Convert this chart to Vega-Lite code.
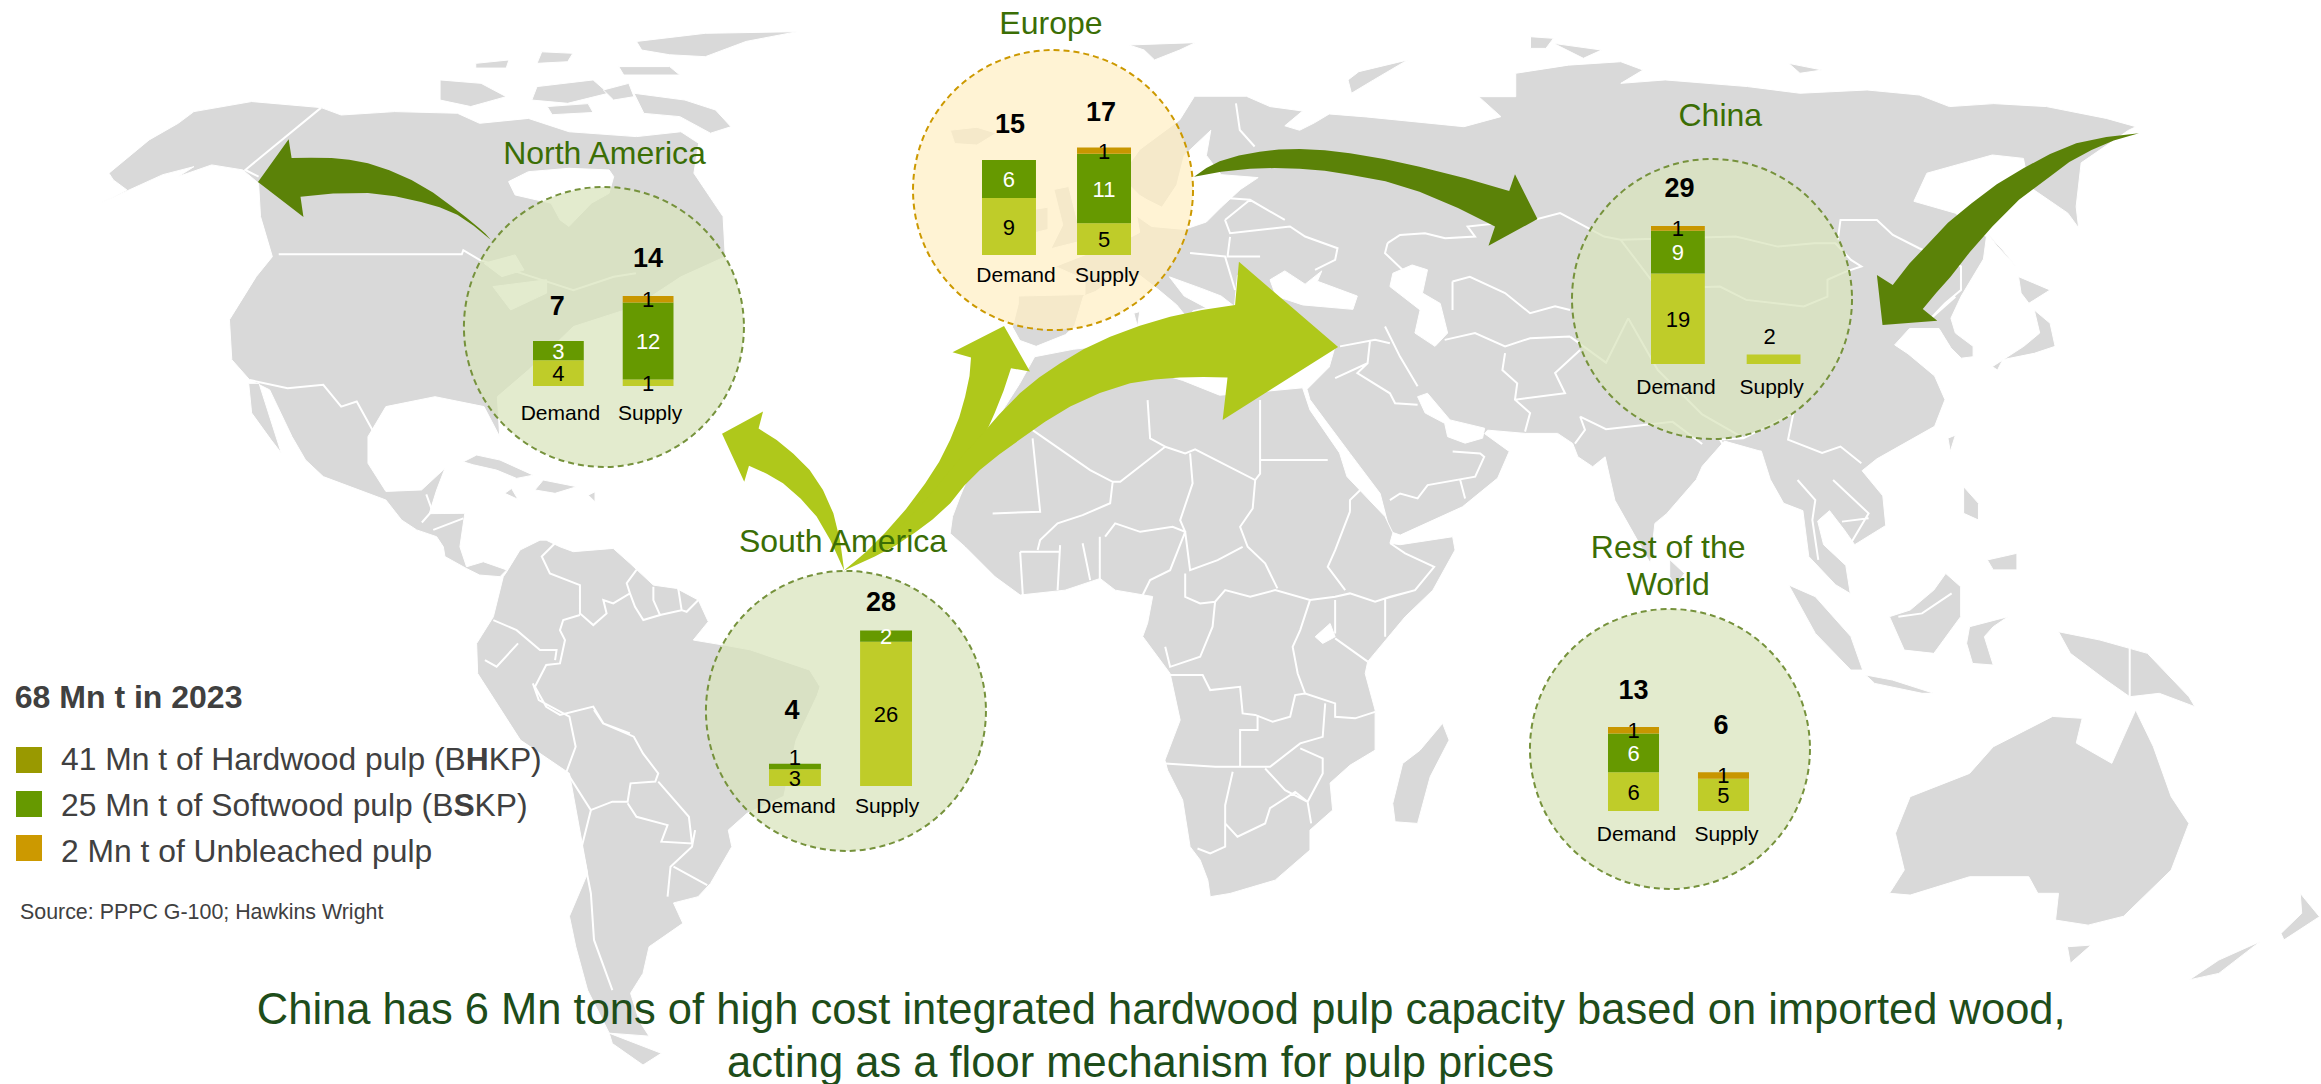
{
"$schema":"https://vega.github.io/schema/vega-lite/v6.json",
"width":2321,"height":1084,"padding":0,"autosize":{"type":"none"},"background":"#ffffff",
"config":{"view":{"stroke":null},"text":{"font":"Liberation Sans"}},
"projection":{"type":"identity","scale":1.4802,"translate":[0,0]},
"resolve":{"scale":{"x":"independent","y":"independent","color":"independent","fill":"independent","stroke":"independent"}},
"data":{"values":[
{"region":"NA","flow":"Demand","pulp":"Hardwood","value":4},{"region":"NA","flow":"Demand","pulp":"Softwood","value":3},
{"region":"NA","flow":"Supply","pulp":"Hardwood","value":1},{"region":"NA","flow":"Supply","pulp":"Softwood","value":12},{"region":"NA","flow":"Supply","pulp":"Unbleached","value":1},
{"region":"EU","flow":"Demand","pulp":"Hardwood","value":9},{"region":"EU","flow":"Demand","pulp":"Softwood","value":6},
{"region":"EU","flow":"Supply","pulp":"Hardwood","value":5},{"region":"EU","flow":"Supply","pulp":"Softwood","value":11},{"region":"EU","flow":"Supply","pulp":"Unbleached","value":1},
{"region":"CN","flow":"Demand","pulp":"Hardwood","value":19},{"region":"CN","flow":"Demand","pulp":"Softwood","value":9},{"region":"CN","flow":"Demand","pulp":"Unbleached","value":1},
{"region":"CN","flow":"Supply","pulp":"Hardwood","value":2},
{"region":"SA","flow":"Demand","pulp":"Hardwood","value":3},{"region":"SA","flow":"Demand","pulp":"Softwood","value":1},
{"region":"SA","flow":"Supply","pulp":"Hardwood","value":26},{"region":"SA","flow":"Supply","pulp":"Softwood","value":2},
{"region":"RW","flow":"Demand","pulp":"Hardwood","value":6},{"region":"RW","flow":"Demand","pulp":"Softwood","value":6},{"region":"RW","flow":"Demand","pulp":"Unbleached","value":1},
{"region":"RW","flow":"Supply","pulp":"Hardwood","value":5},{"region":"RW","flow":"Supply","pulp":"Unbleached","value":1}
]},
"datasets":{
"land":[
{"type":"Feature","properties":{"name":"North America"},"geometry":{"type":"Polygon","coordinates":[[[73.6,117],[100.8,94.5],[120.4,83.3],[131,75.4],[170,68.6],[217,72.7],[230.5,77.7],[266.7,75.4],[309,76.5],[324,83.3],[357,80],[384.4,89],[430,92.3],[460,89],[472,96.8],[468.8,117],[488.5,146.3],[490,173.4],[460,187],[429.6,207],[387.4,220.6],[357,250],[336,268],[337.6,295],[327,274.7],[293.9,268],[260.7,274.7],[248.6,295],[248.6,313],[260.7,332],[284.8,331],[300.6,316.4],[295,331],[290,347],[314,346.8],[310.7,369.4],[315.2,382.9],[326.5,379.5],[342.3,385],[337.8,389.6],[324,388.5],[315,384],[300.6,376],[299.5,369.4],[295,362.6],[281.5,358],[271.3,351.3],[260.7,337.8],[218.4,322],[206.4,310.7],[197.3,295],[182.2,263.4],[168.7,256.7],[156.6,243],[155,216],[173,187],[184,173.4],[176,146.3],[174.7,123.8],[164,114.8],[143,111.4],[120.4,119.3],[131,112.6],[110,118],[67.6,137.3],[85.7,128.3],[76.6,121.6],[73.6,117]]]}},
{"type":"Feature","properties":{"name":"Baja"},"geometry":{"type":"Polygon","coordinates":[[[168,259],[175,259],[190,306],[183,297],[170,279],[168,259]]]}},
{"type":"Feature","properties":{"name":"Baffin"},"geometry":{"type":"Polygon","coordinates":[[[428.3,63],[462.7,67.6],[483.4,74.3],[493.8,85.6],[480,90],[459.3,78.8],[435,76.6],[428.3,63]]]}},
{"type":"Feature","properties":{"name":"Ellesmere"},"geometry":{"type":"Polygon","coordinates":[[[430,28],[476.5,22.5],[538.6,21.4],[504,28],[476.5,38.3],[452.4,37],[433.5,33.8],[430,28]]]}},
{"type":"Feature","properties":{"name":"Victoria"},"geometry":{"type":"Polygon","coordinates":[[[297.3,54],[325,56.3],[342,65.3],[318,72],[297.3,67.6],[297.3,54]]]}},
{"type":"Feature","properties":{"name":"Arctic 2"},"geometry":{"type":"Polygon","coordinates":[[[362.8,58.5],[400.7,54],[411,63],[383.5,69.8],[359.3,67.6],[362.8,58.5]]]}},
{"type":"Feature","properties":{"name":"Arctic 3"},"geometry":{"type":"Polygon","coordinates":[[[321.4,42.8],[343.8,40.5],[342,46],[321.4,46],[321.4,42.8]]]}},
{"type":"Feature","properties":{"name":"Arctic 4"},"geometry":{"type":"Polygon","coordinates":[[[366,35],[387,36],[383.5,41.7],[362.8,42.8],[366,35]]]}},
{"type":"Feature","properties":{"name":"Arctic 5"},"geometry":{"type":"Polygon","coordinates":[[[418,45],[452.4,45],[459.3,50.7],[421.4,50.7],[418,45]]]}},
{"type":"Feature","properties":{"name":"Arctic 6"},"geometry":{"type":"Polygon","coordinates":[[[407.6,60.8],[424.8,56.3],[428.3,65.3],[414.5,67.6],[407.6,60.8]]]}},
{"type":"Feature","properties":{"name":"Arctic 7"},"geometry":{"type":"Polygon","coordinates":[[[369.7,72],[397.3,70],[400.7,76],[373,77.5],[369.7,72]]]}},
{"type":"Feature","properties":{"name":"Cuba"},"geometry":{"type":"Polygon","coordinates":[[[313,312],[322,307.4],[337.8,310.8],[360.3,321],[349,323.2],[335.5,317.6],[319.7,314],[313,312]]]}},
{"type":"Feature","properties":{"name":"Hispaniola"},"geometry":{"type":"Polygon","coordinates":[[[361.4,331],[367,324.3],[389.6,328.8],[375,333.3],[361.4,331]]]}},
{"type":"Feature","properties":{"name":"Jamaica"},"geometry":{"type":"Polygon","coordinates":[[[341,333.3],[345.6,330],[350,337.4],[341,333.3]]]}},
{"type":"Feature","properties":{"name":"Puerto Rico"},"geometry":{"type":"Polygon","coordinates":[[[397.4,334.5],[402,332.2],[402,339],[397.4,334.5]]]}},
{"type":"Feature","properties":{"name":"South America"},"geometry":{"type":"Polygon","coordinates":[[[342.3,386.3],[351.3,371.6],[364.8,364.9],[369,364.9],[378.3,369.4],[387.3,372.7],[414.3,370.5],[425.6,380.6],[441.4,395.3],[457,397.5],[471.8,405.4],[478.5,420],[468.4,432.4],[490,436],[506.7,439],[547,452.7],[554,464],[552,470],[537.8,500],[529.5,538],[504.7,549.5],[492,560.8],[494.4,572],[480,596.8],[471.6,605.8],[455,610],[461.3,623.8],[438.5,639.6],[434.4,657.6],[426,671],[432,690],[438.5,700],[411.6,698],[397,669],[389,639.6],[384.7,619],[397,590],[384.7,522.5],[351.6,500],[322.7,455],[322,434.7],[333.3,416.7],[340,389.6],[342.3,386.3]]]}},
{"type":"Feature","properties":{"name":"Tierra del Fuego"},"geometry":{"type":"Polygon","coordinates":[[[411.6,698],[446.8,711.6],[434.4,719.5],[413.7,705],[411.6,698]]]}},
{"type":"Feature","properties":{"name":"Eurasia"},"geometry":{"type":"Polygon","coordinates":[[[688,200],[733,199],[733,189],[713,180],[736,171],[753,166],[770,157],[768,146],[778,153],[800,155],[815,150],[825,140],[838,128],[850,120],[825,118],[815,105],[818,88],[800,105],[795,125],[785,140],[775,135],[770,132],[757,119],[770,101],[797,81],[807,65],[842,65],[858,72],[880,75],[868,85],[878,88],[888,83],[898,77],[923,79],[989,85.6],[1014,78.8],[999,65.3],[1024,65.3],[1024,49.5],[1059.6,44],[1095,41.7],[1110,47.3],[1095,56.3],[1125,54],[1180.7,58.5],[1216,63],[1261.4,60.8],[1296.7,64.2],[1317,72],[1347,70],[1382.5,72],[1423,80],[1443,85.6],[1438,88],[1406,110],[1402.6,139.6],[1404.3,154],[1397,144],[1370.7,126],[1367,107],[1346,104.7],[1301.8,117],[1293,136],[1321,144],[1342,160],[1340,175],[1325,200],[1318,215],[1321,225],[1333,234],[1333,241],[1325,242],[1318,235],[1310,222],[1290,222],[1280,233],[1289,239],[1307,254],[1314,270],[1307,288],[1268,310],[1258,318],[1272,335],[1274,355],[1253,368],[1246,358],[1236,345],[1228,352],[1232,368],[1247,382],[1250,401],[1240,395],[1222,376],[1218,345],[1205,340],[1196,324],[1190,305],[1165,298],[1150,315],[1146,324],[1126,347],[1118,353.6],[1115,380.6],[1091,338],[1084.4,308.6],[1076,315.3],[1066,308.6],[1062.5,299.6],[1052.3,292.8],[1030.4,292.8],[1005,290.6],[1003,293],[1019.6,305],[1011.8,323],[988,342.4],[946,361.5],[939,359],[932.4,333.4],[912,306.3],[895.2,283.8],[885,270],[883,263],[898,248],[902,234],[885,222],[848,220],[838,205],[846,192],[836,186],[834,207],[825,200],[812,195],[790,187],[800,200],[815,208],[806,210],[803,216],[795,206],[783,196],[770,186],[750,190],[740,197],[732,200],[726,220],[720,226],[700,234],[689,230],[684,221],[688,205],[688,200]]]}},
{"type":"Feature","properties":{"name":"Africa"},"geometry":{"type":"Polygon","coordinates":[[[699,241],[725,236],[760,232],[775,232],[775,250],[799,257],[824,267],[848,265],[880,262],[885,277],[905,306],[910,322],[935.7,349],[941,360],[939,367],[945.9,368],[981.4,362.6],[983,371.6],[968,398.7],[949.3,416.7],[924,447],[922.3,455],[929,479.7],[929,506.8],[912,517],[898.6,529],[900.3,547.3],[885,560.8],[885,574.3],[861.5,594.6],[831,603.6],[817.6,605.8],[816,594.6],[810.8,581],[804,572],[799,540.5],[788.8,520.3],[787,513.5],[797.3,486.5],[790.5,455],[772,430],[775.3,421],[778.7,403],[753.4,398.7],[743.2,390.8],[719.6,398.7],[689.2,402],[672.3,389.7],[652,369.4],[641.9,360.4],[643.5,349],[648.6,335.5],[665.5,295],[679,274.7],[689,259],[699,241]]]}},
{"type":"Feature","properties":{"name":"Madagascar"},"geometry":{"type":"Polygon","coordinates":[[[974.6,488.7],[979,500],[966.2,524.8],[957.7,556.3],[942.5,555.2],[940.9,542.8],[947.6,515.8],[959.4,506.8],[974.6,488.7]]]}},
{"type":"Feature","properties":{"name":"Australia"},"geometry":{"type":"Polygon","coordinates":[[[1346.6,504.5],[1386.7,484],[1406.7,485.3],[1402.7,502],[1426.7,515.7],[1442.8,479.7],[1454.8,504.5],[1466.8,538.2],[1478.8,556.3],[1466.8,587.8],[1434.7,619],[1410.7,625],[1388.7,621.6],[1390.7,603.5],[1376.7,603.5],[1370.6,592.3],[1330.6,592.3],[1290.5,604.7],[1276.5,603.5],[1286.5,587.8],[1280.5,563],[1290.5,538.2],[1330.6,522.5],[1346.6,504.5]]]}},
{"type":"Feature","properties":{"name":"Tasmania"},"geometry":{"type":"Polygon","coordinates":[[[1396.7,639.6],[1412.7,638.5],[1398.7,650.8],[1396.7,639.6]]]}},
{"type":"Feature","properties":{"name":"NZ North"},"geometry":{"type":"Polygon","coordinates":[[[1554,603.5],[1567,619.3],[1543,635],[1541,630.6],[1555,617],[1554,603.5]]]}},
{"type":"Feature","properties":{"name":"NZ South"},"geometry":{"type":"Polygon","coordinates":[[[1527,636],[1499,657.6],[1479,662],[1499,648.6],[1527,636]]]}},
{"type":"Feature","properties":{"name":"New Guinea"},"geometry":{"type":"Polygon","coordinates":[[[1390.7,426.8],[1418.7,432.4],[1450.8,441.4],[1478.8,470.7],[1482.8,477.4],[1458.8,468.4],[1438.8,470.7],[1422.7,459.4],[1398.7,441.4],[1390.7,426.8]]]}},
{"type":"Feature","properties":{"name":"Sumatra"},"geometry":{"type":"Polygon","coordinates":[[[1208.4,395.2],[1226.4,403.1],[1250.4,430],[1258.4,452.7],[1250.4,452.7],[1226.4,427.9],[1208.4,395.2]]]}},
{"type":"Feature","properties":{"name":"Java"},"geometry":{"type":"Polygon","coordinates":[[[1260.4,456],[1278.5,459.4],[1306.5,468.4],[1298.5,468.4],[1266.5,461.7],[1260.4,456]]]}},
{"type":"Feature","properties":{"name":"Borneo"},"geometry":{"type":"Polygon","coordinates":[[[1314.5,387.4],[1324.6,396.4],[1324.6,416.6],[1306.5,441.4],[1286.5,439.2],[1276.5,416.6],[1290.5,412.1],[1306.5,398.6],[1314.5,387.4]]]}},
{"type":"Feature","properties":{"name":"Sulawesi"},"geometry":{"type":"Polygon","coordinates":[[[1330.6,423.4],[1356.6,416.6],[1346.6,423.4],[1340.6,430.1],[1346.6,449.3],[1332.6,448.2],[1328.6,434.6],[1330.6,423.4]]]}},
{"type":"Feature","properties":{"name":"Luzon"},"geometry":{"type":"Polygon","coordinates":[[[1326.6,328.8],[1336.6,340],[1336.6,351.3],[1326.6,346.8],[1326.6,328.8]]]}},
{"type":"Feature","properties":{"name":"Mindanao"},"geometry":{"type":"Polygon","coordinates":[[[1342.6,378.3],[1362.6,373.8],[1362.6,385],[1346.6,385],[1342.6,378.3]]]}},
{"type":"Feature","properties":{"name":"Sri Lanka"},"geometry":{"type":"Polygon","coordinates":[[[1128,378],[1138,387.4],[1132,396],[1128,389.6],[1128,378]]]}},
{"type":"Feature","properties":{"name":"Taiwan"},"geometry":{"type":"Polygon","coordinates":[[[1316,296],[1321,294],[1317.6,305],[1316,296]]]}},
{"type":"Feature","properties":{"name":"Honshu"},"geometry":{"type":"Polygon","coordinates":[[[1374.3,209.4],[1385,218.4],[1388.4,234],[1374.3,238.7],[1353,243],[1349.5,250],[1346,247.7],[1367.2,234],[1378,225],[1374.3,209.4]]]}},
{"type":"Feature","properties":{"name":"Hokkaido"},"geometry":{"type":"Polygon","coordinates":[[[1363.7,186.9],[1385,195.9],[1370.7,204.9],[1365.4,198],[1363.7,186.9]]]}},
{"type":"Feature","properties":{"name":"Sakhalin"},"geometry":{"type":"Polygon","coordinates":[[[1342.4,157.6],[1353,168.9],[1362,180],[1349.5,166.6],[1342.4,157.6]]]}},
{"type":"Feature","properties":{"name":"Novaya Zemlya"},"geometry":{"type":"Polygon","coordinates":[[[918,48.4],[951,40.5],[928,54],[913,63],[910.7,54],[918,48.4]]]}},
{"type":"Feature","properties":{"name":"Svalbard"},"geometry":{"type":"Polygon","coordinates":[[[762.7,30.4],[807.5,28.8],[797,33.8],[780,40.5],[773,33.8],[762.7,30.4]]]}},
{"type":"Feature","properties":{"name":"Severnaya 1"},"geometry":{"type":"Polygon","coordinates":[[[1034,24.8],[1049.5,25.9],[1044.4,32.7],[1034,32.7],[1034,24.8]]]}},
{"type":"Feature","properties":{"name":"Severnaya 2"},"geometry":{"type":"Polygon","coordinates":[[[1049.5,29.3],[1082,33.8],[1069.7,39.4],[1049.5,29.3]]]}},
{"type":"Feature","properties":{"name":"New Siberia"},"geometry":{"type":"Polygon","coordinates":[[[1208.4,42.8],[1231,47.3],[1216,49.5],[1208.4,42.8]]]}},
{"type":"Feature","properties":{"name":"Iceland"},"geometry":{"type":"Polygon","coordinates":[[[642,88],[660,86],[673,90],[660,98],[645,97],[642,88]]]}},
{"type":"Feature","properties":{"name":"Britain"},"geometry":{"type":"Polygon","coordinates":[[[712,128],[722,126],[728,150],[734,162],[710,168],[718,152],[712,128]]]}},
{"type":"Feature","properties":{"name":"Ireland"},"geometry":{"type":"Polygon","coordinates":[[[695,142],[708,140],[708,155],[696,158],[695,142]]]}},
{"type":"Feature","properties":{"name":"Sardinia"},"geometry":{"type":"Polygon","coordinates":[[[766,211.6],[770,210.5],[768.5,220.6],[766,211.6]]]}}
],
"sea":[
{"type":"Feature","properties":{"name":"Hudson Bay"},"geometry":{"type":"Polygon","coordinates":[[[343.6,122.7],[357,116],[384.4,113.7],[411.5,114.8],[414.6,119.3],[411.5,130.6],[399.5,137.3],[384.4,153],[378.4,148.6],[372.3,137.3],[348,131.7],[343.6,122.7]]]}},
{"type":"Feature","properties":{"name":"Superior"},"geometry":{"type":"Polygon","coordinates":[[[327,177.9],[348,172.2],[354,182.4],[339,186.9],[327,177.9]]]}},
{"type":"Feature","properties":{"name":"Michigan-Huron"},"geometry":{"type":"Polygon","coordinates":[[[333,193.6],[369.3,189],[369.3,198],[345,209.4],[333,193.6]]]}},
{"type":"Feature","properties":{"name":"Black Sea"},"geometry":{"type":"Polygon","coordinates":[[[858,189],[868,183],[881.7,192],[893,183],[890,190],[917,200],[914,209],[880,206],[862,200],[858,189]]]}},
{"type":"Feature","properties":{"name":"Caspian"},"geometry":{"type":"Polygon","coordinates":[[[954,179],[964.4,182.3],[961,198],[973,205],[978,225],[969.5,234],[955.9,225],[959.4,209.4],[939,193.6],[941,184.6],[954,179]]]}},
{"type":"Feature","properties":{"name":"Persian Gulf"},"geometry":{"type":"Polygon","coordinates":[[[957.7,268],[964.4,265.7],[979.6,283.7],[1003,289.3],[1001.6,296],[989.8,299.4],[978,295],[976,286],[962.8,279],[957.7,268]]]}},
{"type":"Feature","properties":{"name":"Lake Victoria"},"geometry":{"type":"Polygon","coordinates":[[[888.5,430.2],[898.6,421.2],[902,430.2],[893.6,434.7],[888.5,430.2]]]}}
],
"borders":[
{"type":"Feature","properties":{"area":"North America"},"geometry":{"type":"MultiLineString","coordinates":[
[[188.3,171.8],[312,171.8],[313,169],[324,175.6],[387.4,196],[414.6,187],[429.6,184.6]],
[[217,72.7],[165.7,114.8],[174.7,119.3]],
[[168.7,256.7],[194.3,262.3],[218.4,260],[230.5,274.7],[241,271.3],[251.6,290.5]],
[[288,334],[292,345],[285,353]],[[292.7,358],[313,350.2]]]}},
{"type":"Feature","properties":{"area":"South America"},"geometry":{"type":"MultiLineString","coordinates":[
[[376,366],[366,376],[371.5,387.4],[391.8,395.3],[391.8,414.4],[400.8,422.3],[409.8,414.4],[407.6,405.4],[414.3,407.7],[425.6,400.9],[423.4,394],[430,385]],
[[441.4,396.4],[441.4,405.4],[445.9,415.5],[434.6,418.9],[429,410],[425.6,400.9]],
[[458.2,397.5],[460.5,412.2],[445.9,415.5]],[[460.5,412.2],[463.9,413.3],[471.8,405.4]],
[[391.8,415.5],[380.5,418.9],[378.3,425.7],[381.7,432.4],[378.3,448.2],[369,449.3],[361.4,464],[369,477.5],[378.3,483],[400.8,477.4],[407.6,488.7],[425.6,495.5]],
[[333.3,418.9],[349,425.7],[364.8,439.2],[376,439.2],[375,446]],
[[350,434.7],[335.5,450.4],[327.6,446]],
[[360,461.7],[364,473],[384.7,484.2],[388.9,504.5],[382.7,521.4],[399.2,547.3],[393,572],[399.2,603.6],[401.3,635],[413.7,668.9]],
[[401.3,479.7],[407.5,488.7],[428.2,497.7],[434.4,509],[444.7,522.5],[442.7,528],[426,529.2],[424,541.6],[413.7,541.6],[399,547.3]],
[[424,542.7],[430,551.8],[451,557.4],[446.8,568.6],[467.5,569.8],[465.4,551.8],[444.7,528]],
[[469.6,560.8],[467.5,572],[453,585.5],[451,605.8]],[[455,585.5],[477.8,597.9]]]}},
{"type":"Feature","properties":{"area":"Africa"},"geometry":{"type":"MultiLineString","coordinates":[
[[697.6,296.2],[702.7,345.7],[670.6,346.9]],
[[697.6,290.6],[736.5,317.6],[751.7,325.5],[756.8,325.5],[787.2,301.8],[777,296.2],[775.3,270.3]],
[[787.2,301.8],[800.7,306.3],[807.4,303.6],[848,324.3],[851.3,320],[851.3,270.3]],
[[851.3,310.8],[897,310.8]],
[[804,306.3],[805.7,326.6],[797.3,351.4],[800.7,359.3]],
[[751.7,325.5],[750,340],[731.4,348],[714.5,353.6],[702.7,364.9],[701,371.6]],
[[848,324.3],[846.3,343.5],[837.8,355.9],[842.9,369.4],[854.7,380.6],[863,397.5]],
[[800.7,359.3],[804,385.2],[822.6,378.4],[839.5,369.4]],
[[746.6,362.6],[753.4,353.6],[770.3,359.3],[792.2,355.9],[800.7,359.3],[790.5,385.2],[777,391.9],[772,402]],
[[743,362.6],[743,391.9]],[[731.4,367],[736.5,391.9]],[[716.2,368.3],[714.5,398.7]],[[689.2,372.8],[691,402]],[[689.2,372.8],[716.2,372.8]],
[[800.7,387.4],[800.7,403.2],[810.8,407.7],[820.9,406.5],[827.7,398.7],[844.6,403.2],[861.5,398.7],[885,405.4],[902,403.2],[912,400.9],[929,406.5],[939.2,403.2],[956,398.7]],
[[885,405.4],[878.4,425.7],[873.3,437],[876.7,455],[881.7,468.5],[875,469.6],[871.6,484.2],[859.8,487.6],[848,483],[839.5,482],[837.8,464],[817.6,466.2],[812.5,456],[790.5,456]],
[[820.9,406.5],[819.2,423.4],[810.8,443.7],[790.5,450.5],[787.2,437]],
[[912,345.7],[912,337.9],[919,331]],[[912,345.7],[902,371.6],[897,382.9],[908.8,398.7]],
[[939.2,367],[949.3,373.9],[968.9,382.9],[956,398.7],[935.8,404.3],[935.8,430.2]],
[[902,431.3],[924,447]],[[902,405.4],[902,428]],
[[881.7,468.5],[902,475.2],[902,484.2],[915.5,485.3],[929,480.9]],
[[895.3,475.2],[893.6,497.8],[878.4,502.2],[858.1,518],[837.8,518],[837.8,493.2],[849.6,493.2],[849.6,483]],
[[787.2,515.8],[821,518],[854.7,518]],
[[832.8,521.4],[827.7,544],[827.7,572],[817.6,576.6],[809,573.2]],
[[827.7,556.3],[836,565.3],[854.7,556.3],[858,546],[875,535],[883.4,541.7]],
[[854.7,519.2],[868.2,533.8],[883.4,541.7],[893.6,522.5],[893.6,512.4],[878.4,505.6]],
[[883.4,541.7],[885.8,556.3]]]}},
{"type":"Feature","properties":{"area":"Asia and Europe"},"geometry":{"type":"MultiLineString","coordinates":[
[[937.4,164.3],[945.8,158.7],[962.7,157.6],[976.3,161],[996.5,159.8],[991.5,153],[1038.7,148],[1054,144],[1083.7,159.8],[1094.9,162]],
[[937.4,164.3],[935.7,171],[947.5,182.3]],
[[981.3,190.2],[981.3,209.4]],[[981.3,190.2],[993,187],[1016.8,198],[1033.7,211.6],[1050.6,207],[1060.7,209.4]],
[[976,229.6],[996.5,225],[1016.8,234],[1033.7,228.5],[1060.7,227.4]],
[[935.7,220.6],[945.8,240.9],[957.7,261]],
[[1016.8,238.6],[1015,250],[1025,259],[1023.5,270],[1033.7,279],[1030.3,291.6]],
[[1023.5,270],[1057.3,265.7],[1050.6,252],[1067.5,236.4]],
[[1067.5,281.4],[1070.8,290.4],[1064,299.7]],
[[925.5,230.8],[923.9,245.4],[902,255.5]],[[923.9,245.4],[917,252],[939,265.7],[942.5,272.4],[957.7,273.5]],
[[905.3,234],[929,229.6],[939,231.9]],
[[939,337.9],[945.9,333.4],[957.7,336.7],[964.5,327.7],[996.6,322],[1002.7,308.6],[1000,306.3],[981.4,305]],
[[986.5,324.3],[989.8,336.7]],
[[827.6,148.6],[831,157.6],[871.5,153],[881.7,159.8],[903.6,167.7],[902,175.6],[888.4,182.3]],
[[831,160],[829.3,173.3],[851.3,173.3]],
[[814,132.8],[844.5,135],[868,148.6]],[[827.6,148.6],[844.5,135]],
[[804,171],[827.6,173.3],[834.4,195.9]],
[[835,69.8],[837.6,87.8],[847.6,99]],
[[1094.9,162],[1172.7,159.8],[1201,166.6],[1225.7,164.3],[1239.9,164.3],[1250.5,175.6],[1257.5,180],[1247,183.5],[1234.6,189],[1234.6,200.4],[1218.6,207],[1179.7,202.6],[1162,193.6],[1120,195],[1094.9,162]],
[[1241.6,162],[1243.4,148.6],[1268,148.6],[1278.8,158.7],[1296.5,167.7],[1324.8,180],[1324.8,195.9],[1314,205],[1303.5,216]],[[1303.5,216],[1321,200.4]],
[[1100,215],[1120,250],[1150,280],[1178,296],[1211.6,279],[1208,297],[1231,306],[1243.4,301.7],[1257.5,313]],
[[1178,296],[1162,297],[1169,308.5],[1190,305]],
[[1060.7,227.4],[1085,245],[1100,215]],
[[1067.5,281.4],[1085,290],[1130,285],[1150,300]],
[[1214.4,324.3],[1226.4,337.8],[1224.4,351.3],[1228.4,378.3]],
[[1238.4,324.3],[1262.4,346.8],[1250.4,367]],[[1244.4,352.4],[1262.4,350.2]],
[[1438.8,438],[1438.8,470.7]],[[1282.5,416.6],[1298.5,414.4],[1318.5,400.9]]]}}
],
"arrows":[
{"type":"Feature","properties":{"shade":"dark","route":"North America exports"},"geometry":{"type":"Polygon","coordinates":[[[331.5,162],[328,158],[323.6,154],[315,147],[306,140],[292.5,130],[278,121.6],[263,115],[248.6,110.3],[236,108],[224,106.8],[210,106.5],[197,106.8],[195,94],[174.3,123],[205,146.6],[203,133],[225,130.7],[248.6,130.4],[267,132.5],[284.5,136.5],[297,140],[309,145],[320,152.5],[331.5,162]]]}},
{"type":"Feature","properties":{"shade":"dark","route":"Europe to China"},"geometry":{"type":"Polygon","coordinates":[[[806.7,119.4],[815,113.5],[824,109],[837,105],[851,102.5],[864,101],[878,100.7],[895,101.5],[912,103.6],[935,107.5],[959,112.6],[990,120.5],[1019.6,129],[1023.5,117.8],[1038.7,148],[1005.6,166],[1010,153],[985,140.5],[959,129.5],[936,122.5],[912,118],[895,115.3],[878,114],[861,113.5],[844.5,114],[825,116],[806.7,119.4]]]}},
{"type":"Feature","properties":{"shade":"dark","route":"Russia to China"},"geometry":{"type":"Polygon","coordinates":[[[1445,90],[1423,92.5],[1402.7,96.8],[1385,104],[1367,113.7],[1349,124.5],[1331.8,137.4],[1316,150.5],[1303,164.4],[1290,178],[1278.7,192.6],[1268,185.8],[1271.8,219.6],[1308.8,216.7],[1299,208.8],[1308,198],[1317.8,187],[1331,170],[1346,153],[1364,135],[1385,119.3],[1398,109.5],[1413,101.4],[1428,95],[1445,90]]]}},
{"type":"Feature","properties":{"shade":"light","route":"South America to North America"},"geometry":{"type":"Polygon","coordinates":[[[570.3,385.5],[567.5,365],[563,346.8],[556,331],[547,317.5],[536,306.5],[524.7,297.3],[512.5,289.5],[515.5,278],[487.8,293],[502.8,325.4],[506,314.6],[518,320],[529,326.5],[541,337],[551.7,349],[561,365],[570.3,385.5]]]}},
{"type":"Feature","properties":{"shade":"light","route":"South America to Europe"},"geometry":{"type":"Polygon","coordinates":[[[570.3,385.5],[585,373],[598,360],[612,344],[625,326.6],[634.5,312],[642,297],[648,282],[652,268],[655,254],[656,241.6],[643.5,238],[678.3,220.3],[695.8,251],[683,248.7],[678,264],[672,279],[668,288],[663,297],[646,322],[628.3,344.6],[610,361],[591,373.8],[570.3,385.5]]]}},
{"type":"Feature","properties":{"shade":"light","route":"South America to Asia"},"geometry":{"type":"Polygon","coordinates":[[[570.3,385.5],[591,369.4],[603,360],[615,349],[627,336],[638.5,322],[650,308],[662,295],[675,280],[689,265.7],[702,255],[716,245.5],[732,236],[750,227.5],[770,220],[790.5,214],[812,209.5],[834.4,206],[837,176.8],[904,234.5],[826,283.7],[829.3,255],[813,254.7],[797,255],[780,256.3],[763.5,259],[743,265.5],[723,274.7],[706,285],[689,297],[675,307],[662,317.5],[651.5,328],[642,340],[630,351],[618,360],[605,368.5],[591,376],[570.3,385.5]]]}}
],
"circles":[
{"region":"North America","mapX":408,"mapY":220.9,"tone":"green"},
{"region":"Europe","mapX":711.4,"mapY":128.4,"tone":"gold"},
{"region":"China","mapX":1156.6,"mapY":202,"tone":"green"},
{"region":"South America","mapX":571.5,"mapY":480.3,"tone":"green"},
{"region":"Rest of the World","mapX":1128.2,"mapY":506,"tone":"green"}
],
"names":[
{"label":"North America","mapX":408.4,"mapY":103.9},
{"label":"Europe","mapX":710,"mapY":16},
{"label":"China","mapX":1162.2,"mapY":78.2},
{"label":"South America","mapX":569.5,"mapY":366},
{"label":"Rest of the","mapX":1127,"mapY":370},
{"label":"World","mapX":1127,"mapY":395}
],
"captions":[
{"label":"China has 6 Mn tons of high cost integrated hardwood pulp capacity based on imported wood,","mapX":784.5,"mapY":683},
{"label":"acting as a floor mechanism for pulp prices","mapX":770.5,"mapY":718.5}
],
"legendRows":[
{"pulp":"Hardwood","pre":"41 Mn t of Hardwood pulp (B","bold":"H","post":"KP)"},
{"pulp":"Softwood","pre":"25 Mn t of Softwood pulp (B","bold":"S","post":"KP)"},
{"pulp":"Unbleached","pre":"2 Mn t of Unbleached pulp","bold":"","post":""}
],
"legendTitle":[{"label":"68 Mn t in 2023","mapX":10,"mapY":471.5}],
"source":[{"label":"Source: PPPC G-100; Hawkins Wright","mapX":13.5,"mapY":617}]
},
"layer":[
{"data":{"name":"land"},"mark":{"type":"geoshape","fill":"#D9D9D9","stroke":"#ffffff","strokeWidth":1}},
{"data":{"name":"sea"},"mark":{"type":"geoshape","fill":"#ffffff","stroke":"#ffffff","strokeWidth":1}},
{"data":{"name":"borders"},"mark":{"type":"geoshape","filled":false,"stroke":"#ffffff","strokeWidth":2}},
{"data":{"name":"arrows"},"mark":{"type":"geoshape","stroke":null},"encoding":{"color":{"field":"properties.shade","type":"nominal","legend":null,"scale":{"domain":["dark","light"],"range":["#5B8208","#AFC81B"]}}}},
{"data":{"name":"circles"},"mark":{"type":"circle","size":78400,"fillOpacity":0.72,"opacity":1,"strokeWidth":2,"strokeDash":[6,4]},
 "encoding":{"longitude":{"field":"mapX","type":"quantitative"},"latitude":{"field":"mapY","type":"quantitative"},
  "fill":{"field":"tone","type":"nominal","legend":null,"scale":{"domain":["green","gold"],"range":["#D8E3BB","#FFEFC4"]}},
  "stroke":{"field":"tone","type":"nominal","legend":null,"scale":{"domain":["green","gold"],"range":["#76923C","#CC9900"]}}}},

{"transform":[{"filter":"datum.region==='NA'"},{"stack":"value","groupby":["flow"],"sort":[{"field":"pulp"}],"as":["y0","y1"]},{"calculate":"(datum.y0+datum.y1)/2","as":"mid"}],
 "encoding":{"x":{"field":"flow","type":"nominal","axis":null,"scale":{"type":"band","domain":["Demand","Supply"],"range":[533,673.5],"paddingInner":0.434,"paddingOuter":0}}},
 "layer":[
 {"mark":{"type":"bar"},"encoding":{"y":{"field":"y0","type":"quantitative","axis":null,"scale":{"domain":[0,30],"range":[386,193.1]}},"y2":{"field":"y1"},"color":{"field":"pulp","type":"nominal","legend":null,"scale":{"domain":["Hardwood","Softwood","Unbleached"],"range":["#BFCC29","#669900","#C89600"]}}}},
 {"mark":{"type":"text","fontSize":22,"font":"Liberation Sans","baseline":"middle","dy":1},"encoding":{"y":{"field":"mid","type":"quantitative","axis":null,"scale":{"domain":[0,30],"range":[386,193.1]}},"text":{"field":"value","type":"quantitative"},"color":{"condition":{"test":"datum.pulp==='Softwood'","value":"#ffffff"},"value":"#000000"}}},
 {"transform":[{"aggregate":[{"op":"sum","field":"value","as":"total"}],"groupby":["flow"]}],"mark":{"type":"text","fontSize":21,"font":"Liberation Sans","baseline":"middle","dy":28,"dx":2,"color":"#000000"},"encoding":{"y":{"datum":0,"type":"quantitative","axis":null,"scale":{"domain":[0,30],"range":[386,193.1]}},"text":{"field":"flow","type":"nominal"}}},
 {"transform":[{"filter":"datum.flow==='Demand'"},{"aggregate":[{"op":"sum","field":"value","as":"total"}],"groupby":["flow"]}],"mark":{"type":"text","fontSize":27,"fontWeight":"bold","font":"Liberation Sans","baseline":"middle","dy":-34,"dx":-1,"color":"#000000"},"encoding":{"y":{"field":"total","type":"quantitative","axis":null,"scale":{"domain":[0,30],"range":[386,193.1]}},"text":{"field":"total","type":"quantitative"}}},
 {"transform":[{"filter":"datum.flow==='Supply'"},{"aggregate":[{"op":"sum","field":"value","as":"total"}],"groupby":["flow"]}],"mark":{"type":"text","fontSize":27,"fontWeight":"bold","font":"Liberation Sans","baseline":"middle","dy":-37,"dx":0,"color":"#000000"},"encoding":{"y":{"field":"total","type":"quantitative","axis":null,"scale":{"domain":[0,30],"range":[386,193.1]}},"text":{"field":"total","type":"quantitative"}}}
 ]},

{"transform":[{"filter":"datum.region==='EU'"},{"stack":"value","groupby":["flow"],"sort":[{"field":"pulp"}],"as":["y0","y1"]},{"calculate":"(datum.y0+datum.y1)/2","as":"mid"}],
 "encoding":{"x":{"field":"flow","type":"nominal","axis":null,"scale":{"type":"band","domain":["Demand","Supply"],"range":[982,1131],"paddingInner":0.432,"paddingOuter":0}}},
 "layer":[
 {"mark":{"type":"bar"},"encoding":{"y":{"field":"y0","type":"quantitative","axis":null,"scale":{"domain":[0,30],"range":[255,65.1]}},"y2":{"field":"y1"},"color":{"field":"pulp","type":"nominal","legend":null,"scale":{"domain":["Hardwood","Softwood","Unbleached"],"range":["#BFCC29","#669900","#C89600"]}}}},
 {"mark":{"type":"text","fontSize":22,"font":"Liberation Sans","baseline":"middle","dy":1},"encoding":{"y":{"field":"mid","type":"quantitative","axis":null,"scale":{"domain":[0,30],"range":[255,65.1]}},"text":{"field":"value","type":"quantitative"},"color":{"condition":{"test":"datum.pulp==='Softwood'","value":"#ffffff"},"value":"#000000"}}},
 {"transform":[{"filter":"datum.flow==='Demand'"},{"aggregate":[{"op":"sum","field":"value","as":"total"}],"groupby":["flow"]}],"mark":{"type":"text","fontSize":21,"font":"Liberation Sans","baseline":"middle","dy":21,"dx":7,"color":"#000000"},"encoding":{"y":{"datum":0,"type":"quantitative","axis":null,"scale":{"domain":[0,30],"range":[255,65.1]}},"text":{"field":"flow","type":"nominal"}}},
 {"transform":[{"filter":"datum.flow==='Supply'"},{"aggregate":[{"op":"sum","field":"value","as":"total"}],"groupby":["flow"]}],"mark":{"type":"text","fontSize":21,"font":"Liberation Sans","baseline":"middle","dy":21,"dx":3,"color":"#000000"},"encoding":{"y":{"datum":0,"type":"quantitative","axis":null,"scale":{"domain":[0,30],"range":[255,65.1]}},"text":{"field":"flow","type":"nominal"}}},
 {"transform":[{"filter":"datum.flow==='Demand'"},{"aggregate":[{"op":"sum","field":"value","as":"total"}],"groupby":["flow"]}],"mark":{"type":"text","fontSize":27,"fontWeight":"bold","font":"Liberation Sans","baseline":"middle","dy":-35,"dx":1,"color":"#000000"},"encoding":{"y":{"field":"total","type":"quantitative","axis":null,"scale":{"domain":[0,30],"range":[255,65.1]}},"text":{"field":"total","type":"quantitative"}}},
 {"transform":[{"filter":"datum.flow==='Supply'"},{"aggregate":[{"op":"sum","field":"value","as":"total"}],"groupby":["flow"]}],"mark":{"type":"text","fontSize":27,"fontWeight":"bold","font":"Liberation Sans","baseline":"middle","dy":-34,"dx":-3,"color":"#000000"},"encoding":{"y":{"field":"total","type":"quantitative","axis":null,"scale":{"domain":[0,30],"range":[255,65.1]}},"text":{"field":"total","type":"quantitative"}}}
 ]},

{"transform":[{"filter":"datum.region==='CN'"},{"stack":"value","groupby":["flow"],"sort":[{"field":"pulp"}],"as":["y0","y1"]},{"calculate":"(datum.y0+datum.y1)/2","as":"mid"}],
 "encoding":{"x":{"field":"flow","type":"nominal","axis":null,"scale":{"type":"band","domain":["Demand","Supply"],"range":[1651,1800.5],"paddingInner":0.4375,"paddingOuter":0}}},
 "layer":[
 {"mark":{"type":"bar"},"encoding":{"y":{"field":"y0","type":"quantitative","axis":null,"scale":{"domain":[0,30],"range":[364,221.2]}},"y2":{"field":"y1"},"color":{"field":"pulp","type":"nominal","legend":null,"scale":{"domain":["Hardwood","Softwood","Unbleached"],"range":["#BFCC29","#669900","#C89600"]}}}},
 {"transform":[{"filter":"datum.flow==='Demand'"}],"mark":{"type":"text","fontSize":22,"font":"Liberation Sans","baseline":"middle","dy":1},"encoding":{"y":{"field":"mid","type":"quantitative","axis":null,"scale":{"domain":[0,30],"range":[364,221.2]}},"text":{"field":"value","type":"quantitative"},"color":{"condition":{"test":"datum.pulp==='Softwood'","value":"#ffffff"},"value":"#000000"}}},
 {"transform":[{"aggregate":[{"op":"sum","field":"value","as":"total"}],"groupby":["flow"]}],"mark":{"type":"text","fontSize":21,"font":"Liberation Sans","baseline":"middle","dy":24,"dx":-2,"color":"#000000"},"encoding":{"y":{"datum":0,"type":"quantitative","axis":null,"scale":{"domain":[0,30],"range":[364,221.2]}},"text":{"field":"flow","type":"nominal"}}},
 {"transform":[{"filter":"datum.flow==='Demand'"},{"aggregate":[{"op":"sum","field":"value","as":"total"}],"groupby":["flow"]}],"mark":{"type":"text","fontSize":27,"fontWeight":"bold","font":"Liberation Sans","baseline":"middle","dy":-37,"dx":1.5,"color":"#000000"},"encoding":{"y":{"field":"total","type":"quantitative","axis":null,"scale":{"domain":[0,30],"range":[364,221.2]}},"text":{"field":"total","type":"quantitative"}}},
 {"transform":[{"filter":"datum.flow==='Supply'"},{"aggregate":[{"op":"sum","field":"value","as":"total"}],"groupby":["flow"]}],"mark":{"type":"text","fontSize":22,"font":"Liberation Sans","baseline":"middle","dy":-17,"dx":-4,"color":"#000000"},"encoding":{"y":{"field":"total","type":"quantitative","axis":null,"scale":{"domain":[0,30],"range":[364,221.2]}},"text":{"field":"total","type":"quantitative"}}}
 ]},

{"transform":[{"filter":"datum.region==='SA'"},{"stack":"value","groupby":["flow"],"sort":[{"field":"pulp"}],"as":["y0","y1"]},{"calculate":"(datum.y0+datum.y1)/2","as":"mid"}],
 "encoding":{"x":{"field":"flow","type":"nominal","axis":null,"scale":{"type":"band","domain":["Demand","Supply"],"range":[769,912],"paddingInner":0.43,"paddingOuter":0}}},
 "layer":[
 {"mark":{"type":"bar"},"encoding":{"y":{"field":"y0","type":"quantitative","axis":null,"scale":{"domain":[0,30],"range":[786,619.5]}},"y2":{"field":"y1"},"color":{"field":"pulp","type":"nominal","legend":null,"scale":{"domain":["Hardwood","Softwood","Unbleached"],"range":["#BFCC29","#669900","#C89600"]}}}},
 {"transform":[{"filter":"!(datum.flow==='Demand'&&datum.pulp==='Softwood')"}],"mark":{"type":"text","fontSize":22,"font":"Liberation Sans","baseline":"middle","dy":1},"encoding":{"y":{"field":"mid","type":"quantitative","axis":null,"scale":{"domain":[0,30],"range":[786,619.5]}},"text":{"field":"value","type":"quantitative"},"color":{"condition":{"test":"datum.pulp==='Softwood'","value":"#ffffff"},"value":"#000000"}}},
 {"transform":[{"filter":"datum.flow==='Demand'&&datum.pulp==='Softwood'"}],"mark":{"type":"text","fontSize":22,"font":"Liberation Sans","baseline":"middle","dy":-9,"color":"#000000"},"encoding":{"y":{"field":"mid","type":"quantitative","axis":null,"scale":{"domain":[0,30],"range":[786,619.5]}},"text":{"field":"value","type":"quantitative"}}},
 {"transform":[{"aggregate":[{"op":"sum","field":"value","as":"total"}],"groupby":["flow"]}],"mark":{"type":"text","fontSize":21,"font":"Liberation Sans","baseline":"middle","dy":21,"dx":1,"color":"#000000"},"encoding":{"y":{"datum":0,"type":"quantitative","axis":null,"scale":{"domain":[0,30],"range":[786,619.5]}},"text":{"field":"flow","type":"nominal"}}},
 {"transform":[{"filter":"datum.flow==='Demand'"},{"aggregate":[{"op":"sum","field":"value","as":"total"}],"groupby":["flow"]}],"mark":{"type":"text","fontSize":27,"fontWeight":"bold","font":"Liberation Sans","baseline":"middle","dy":-53,"dx":-3,"color":"#000000"},"encoding":{"y":{"field":"total","type":"quantitative","axis":null,"scale":{"domain":[0,30],"range":[786,619.5]}},"text":{"field":"total","type":"quantitative"}}},
 {"transform":[{"filter":"datum.flow==='Supply'"},{"aggregate":[{"op":"sum","field":"value","as":"total"}],"groupby":["flow"]}],"mark":{"type":"text","fontSize":27,"fontWeight":"bold","font":"Liberation Sans","baseline":"middle","dy":-28,"dx":-5,"color":"#000000"},"encoding":{"y":{"field":"total","type":"quantitative","axis":null,"scale":{"domain":[0,30],"range":[786,619.5]}},"text":{"field":"total","type":"quantitative"}}}
 ]},

{"transform":[{"filter":"datum.region==='RW'"},{"stack":"value","groupby":["flow"],"sort":[{"field":"pulp"}],"as":["y0","y1"]},{"calculate":"(datum.y0+datum.y1)/2","as":"mid"}],
 "encoding":{"x":{"field":"flow","type":"nominal","axis":null,"scale":{"type":"band","domain":["Demand","Supply"],"range":[1608,1749],"paddingInner":0.433,"paddingOuter":0}}},
 "layer":[
 {"mark":{"type":"bar"},"encoding":{"y":{"field":"y0","type":"quantitative","axis":null,"scale":{"domain":[0,30],"range":[811,617.2]}},"y2":{"field":"y1"},"color":{"field":"pulp","type":"nominal","legend":null,"scale":{"domain":["Hardwood","Softwood","Unbleached"],"range":["#BFCC29","#669900","#C89600"]}}}},
 {"mark":{"type":"text","fontSize":22,"font":"Liberation Sans","baseline":"middle","dy":1},"encoding":{"y":{"field":"mid","type":"quantitative","axis":null,"scale":{"domain":[0,30],"range":[811,617.2]}},"text":{"field":"value","type":"quantitative"},"color":{"condition":{"test":"datum.pulp==='Softwood'","value":"#ffffff"},"value":"#000000"}}},
 {"transform":[{"aggregate":[{"op":"sum","field":"value","as":"total"}],"groupby":["flow"]}],"mark":{"type":"text","fontSize":21,"font":"Liberation Sans","baseline":"middle","dy":24,"dx":3,"color":"#000000"},"encoding":{"y":{"datum":0,"type":"quantitative","axis":null,"scale":{"domain":[0,30],"range":[811,617.2]}},"text":{"field":"flow","type":"nominal"}}},
 {"transform":[{"filter":"datum.flow==='Demand'"},{"aggregate":[{"op":"sum","field":"value","as":"total"}],"groupby":["flow"]}],"mark":{"type":"text","fontSize":27,"fontWeight":"bold","font":"Liberation Sans","baseline":"middle","dy":-36,"color":"#000000"},"encoding":{"y":{"field":"total","type":"quantitative","axis":null,"scale":{"domain":[0,30],"range":[811,617.2]}},"text":{"field":"total","type":"quantitative"}}},
 {"transform":[{"filter":"datum.flow==='Supply'"},{"aggregate":[{"op":"sum","field":"value","as":"total"}],"groupby":["flow"]}],"mark":{"type":"text","fontSize":27,"fontWeight":"bold","font":"Liberation Sans","baseline":"middle","dy":-46,"dx":-2.5,"color":"#000000"},"encoding":{"y":{"field":"total","type":"quantitative","axis":null,"scale":{"domain":[0,30],"range":[811,617.2]}},"text":{"field":"total","type":"quantitative"}}}
 ]},

{"data":{"name":"names"},"mark":{"type":"text","fontSize":32,"font":"Liberation Sans","color":"#3B6E05","baseline":"middle"},"encoding":{"longitude":{"field":"mapX","type":"quantitative"},"latitude":{"field":"mapY","type":"quantitative"},"text":{"field":"label","type":"nominal"}}},
{"data":{"name":"captions"},"mark":{"type":"text","fontSize":43.5,"font":"Liberation Sans","color":"#1E4D1A","baseline":"middle"},"encoding":{"longitude":{"field":"mapX","type":"quantitative"},"latitude":{"field":"mapY","type":"quantitative"},"text":{"field":"label","type":"nominal"}}},
{"data":{"name":"legendTitle"},"mark":{"type":"text","fontSize":32,"fontWeight":"bold","font":"Liberation Sans","color":"#404040","align":"left","baseline":"middle"},"encoding":{"longitude":{"field":"mapX","type":"quantitative"},"latitude":{"field":"mapY","type":"quantitative"},"text":{"field":"label","type":"nominal"}}},
{"data":{"name":"source"},"mark":{"type":"text","fontSize":21.4,"font":"Liberation Sans","color":"#404040","align":"left","baseline":"middle"},"encoding":{"longitude":{"field":"mapX","type":"quantitative"},"latitude":{"field":"mapY","type":"quantitative"},"text":{"field":"label","type":"nominal"}}},
{"data":{"name":"legendRows"},"mark":{"type":"square","size":676,"opacity":1},
 "encoding":{"y":{"field":"pulp","type":"nominal","axis":null,"scale":{"type":"point","domain":["Hardwood","Softwood","Unbleached"],"range":[760,848],"padding":0}},
  "x":{"datum":"swatch","type":"nominal","axis":null,"scale":{"type":"point","domain":["swatch","text"],"range":[29,61],"padding":0}},
  "color":{"field":"pulp","type":"nominal","legend":null,"scale":{"domain":["Hardwood","Softwood","Unbleached"],"range":["#999900","#669900","#CC9900"]}}}},
{"data":{"name":"legendRows"},
 "encoding":{"y":{"field":"pulp","type":"nominal","axis":null,"scale":{"type":"point","domain":["Hardwood","Softwood","Unbleached"],"range":[760,852],"padding":0}},
  "x":{"datum":"text","type":"nominal","axis":null,"scale":{"type":"point","domain":["swatch","text"],"range":[29,61],"padding":0}}},
 "layer":[
 {"mark":{"type":"text","fontSize":31.8,"font":"Liberation Sans","color":"#404040","align":"left","baseline":"middle"},"encoding":{"text":{"field":"pre","type":"nominal"}}},
 {"transform":[{"filter":"datum.pulp==='Hardwood'"}],"mark":{"type":"text","fontSize":31.8,"fontWeight":"bold","font":"Liberation Sans","color":"#404040","align":"left","baseline":"middle","dx":404.7},"encoding":{"text":{"field":"bold","type":"nominal"}}},
 {"transform":[{"filter":"datum.pulp==='Hardwood'"}],"mark":{"type":"text","fontSize":31.8,"font":"Liberation Sans","color":"#404040","align":"left","baseline":"middle","dx":427.7},"encoding":{"text":{"field":"post","type":"nominal"}}},
 {"transform":[{"filter":"datum.pulp==='Softwood'"}],"mark":{"type":"text","fontSize":31.8,"fontWeight":"bold","font":"Liberation Sans","color":"#404040","align":"left","baseline":"middle","dx":392.4},"encoding":{"text":{"field":"bold","type":"nominal"}}},
 {"transform":[{"filter":"datum.pulp==='Softwood'"}],"mark":{"type":"text","fontSize":31.8,"font":"Liberation Sans","color":"#404040","align":"left","baseline":"middle","dx":413.6},"encoding":{"text":{"field":"post","type":"nominal"}}}
 ]}
]
}
